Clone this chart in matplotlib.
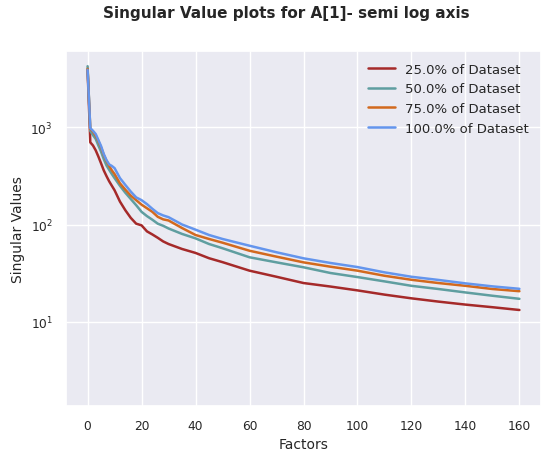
import matplotlib
matplotlib.use("Agg")
import matplotlib.pyplot as plt
import seaborn as sns

factors = [0, 1, 2, 3, 4, 5, 6, 7, 8, 9, 10, 12, 14, 16, 18, 20, 22, 24, 26, 28,
           30, 35, 40, 45, 50, 60, 70, 80, 90, 100, 110, 120, 130, 140, 150, 160]

sv_25 = [3900, 700, 650, 580, 500, 425, 360, 315, 278, 250, 225, 172, 140, 117, 102,
         98, 85, 79, 73, 67, 63, 56, 51, 45, 41, 33.5, 29, 25, 23, 21, 19, 17.4,
         16.1, 15, 14.1, 13.2]
sv_50 = [4250, 920, 830, 760, 650, 560, 470, 405, 365, 330, 300, 250, 212, 183, 158,
         135, 122, 112, 102, 97, 91, 80, 72, 63, 57, 46, 40.8, 36.3, 31.7, 28.8, 26,
         23.4, 21.7, 20, 18.5, 17.2]
sv_75 = [4000, 960, 900, 820, 720, 620, 520, 450, 400, 360, 330, 265, 228, 198, 178,
         160, 147, 135, 120, 113, 110, 92, 78, 71, 65, 53.7, 46.7, 40.8, 36.8, 33.5,
         29.7, 27, 25, 23.4, 21.7, 20.6]
sv_100 = [3900, 980, 920, 853, 740, 640, 530, 460, 415, 400, 380, 300, 255, 218, 190,
          178, 162, 145, 131, 124, 119, 100, 88.5, 78, 71, 60.5, 51.8, 44.9, 40.2,
          36.5, 32.2, 29, 26.9, 24.8, 23.1, 21.8]

labels = ["25.0% of Dataset", "50.0% of Dataset", "75.0% of Dataset", "100.0% of Dataset"]
colors = ["#a52a2a", "#5f9ea0", "#d2691e", "#6495ed"]
series = [sv_25, sv_50, sv_75, sv_100]

sns.set_theme(style="darkgrid")
plt.rcParams['font.family'] = ['DejaVu Sans']

fig = plt.figure(figsize=(5.41, 4.52), dpi=100)
ax = fig.add_axes([66 / 541, 1 - 406.7 / 452, 1 - 66 / 541, (406.7 - 52) / 452])

for ys, lab, col in zip(series, labels, colors):
    ax.plot(factors, ys, color=col, label=lab, linewidth=1.8)

ax.set_yscale("log")
ax.set_ylim(10 ** 0.136, 10 ** 3.785)
ax.set_xlim(-8, 168)
ax.set_xticks([0, 20, 40, 60, 80, 100, 120, 140, 160])
ax.tick_params(labelsize=8.8, colors="#262626")
ax.set_xlabel("Factors", fontsize=10, color="#262626")
ax.set_ylabel("Singular Values", fontsize=10, color="#262626")
ax.legend(loc="upper right", fontsize=9.5, frameon=False)

fig.text(286.5 / 541, 1 - 13.5 / 452, "Singular Value plots for A[1]- semi log axis",
         fontsize=11, fontweight="bold", ha="center", va="center", color="#262626")

fig.savefig("out.png", dpi=100)
